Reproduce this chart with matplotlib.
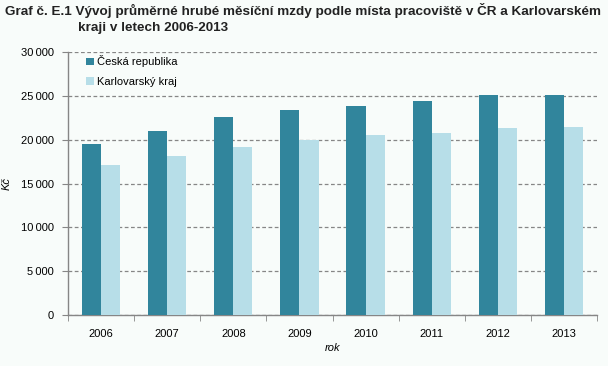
import matplotlib
matplotlib.use("Agg")
import matplotlib.pyplot as plt
import numpy as np
from matplotlib.ticker import FixedLocator, FuncFormatter
from matplotlib import font_manager

years = ["2006", "2007", "2008", "2009", "2010", "2011", "2012", "2013"]
cr = [19460, 20950, 22550, 23350, 23810, 24380, 25050, 25080]
kv = [17060, 18090, 19120, 20000, 20490, 20720, 21290, 21400]
series_names = ["Česká republika", "Karlovarský kraj"]
title1 = "Graf č. E.1 Vývoj průměrné hrubé měsíční mzdy podle místa pracoviště v ČR a Karlovarském"
title2 = "kraji v letech 2006-2013"

W, H = 608, 366
bg = "#F8FCFA"
c1 = "#31859C"
c2 = "#B7DEE8"
grid_c = "#868686"

plt.rcParams['font.family'] = ['Liberation Sans', 'DejaVu Sans']

fig = plt.figure(figsize=(W/100, H/100), dpi=100, facecolor=bg)
ax = fig.add_axes([68/W, (H-315)/H, 529/W, 263/H], facecolor=bg)

x = np.arange(len(years))
bw = 0.29
ax.bar(x - bw/2, cr, bw, color=c1, label=series_names[0], zorder=3)
ax.bar(x + bw/2, kv, bw, color=c2, label=series_names[1], zorder=3)

ax.set_xlim(-0.5, len(years) - 0.5)
ax.set_ylim(0, 30000)
ax.set_yticks(np.arange(0, 30001, 5000))
ax.yaxis.set_major_formatter(FuncFormatter(lambda v, p: f"{int(v):,}".replace(",", "\u2009")))
ax.yaxis.grid(True, linestyle=(0, (3, 2)), color=grid_c, linewidth=0.9, zorder=0)
ax.set_xticks(x)
ax.set_xticklabels(years)
ax.xaxis.set_minor_locator(FixedLocator(np.arange(-0.5, len(years), 1)))
ax.tick_params(axis='x', which='major', length=0, pad=10, labelsize=8, colors='black')
ax.tick_params(axis='x', which='minor', length=4, color=grid_c, direction='out')
ax.tick_params(axis='y', length=4, color=grid_c, labelsize=8, pad=6)

for s in ['top', 'right']:
    ax.spines[s].set_visible(False)
for s in ['left', 'bottom']:
    ax.spines[s].set_color(grid_c)
    ax.spines[s].set_linewidth(1)

ax.set_xlabel("rok", fontsize=8, style='italic', labelpad=3)
ax.set_ylabel("Kč", fontsize=8, style='italic')
ax.yaxis.set_label_coords((12 - 68) / 529, 0.5)

leg = ax.legend(loc='upper left', bbox_to_anchor=(0.015, 1.025), frameon=False,
                fontsize=8, handlelength=0.7, handleheight=0.7, handletextpad=0.3,
                labelspacing=0.85)

tfont = ['Liberation Sans', 'DejaVu Sans']
t1 = fig.text(5/W, 1 - 11/H, title1, fontsize=10, fontweight='bold', family=tfont,
              color='#222222', va='center', ha='left')
t2 = fig.text(78/W, 1 - 28/H, title2, fontsize=10, fontweight='bold', family=tfont,
              color='#222222', va='center', ha='left')
fig.canvas.draw()
r = fig.canvas.get_renderer()
wpx = t1.get_window_extent(r).width
fs = 10 * 594 / wpx
t1.set_fontsize(fs)
t2.set_fontsize(fs)

fig.savefig("out.png", dpi=100, facecolor=bg)
